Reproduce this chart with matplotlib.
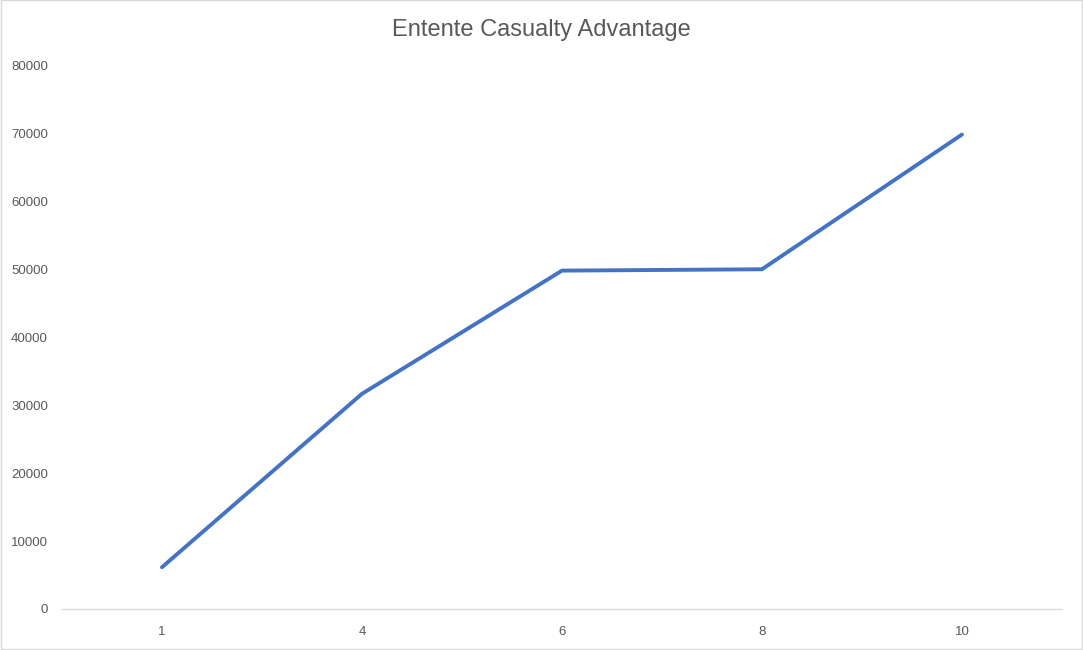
import matplotlib
matplotlib.use("Agg")
import matplotlib.pyplot as plt
from matplotlib.patches import Rectangle

categories = ["1", "4", "6", "8", "10"]
advantage = [6150, 31700, 49850, 50050, 69900]
y_ticks = [0, 10000, 20000, 30000, 40000, 50000, 60000, 70000, 80000]

plt.rcParams["font.family"] = ["Liberation Sans", "DejaVu Sans"]

fig = plt.figure(figsize=(10.83, 6.5), dpi=100)
ax = fig.add_axes([0.0572, 0.0631, 0.9234, 0.8354])

x = list(range(len(categories)))
ax.plot(x, advantage, color="#4472C4", linewidth=2.8, solid_capstyle="round",
        solid_joinstyle="miter")

ax.set_xlim(-0.5, len(categories) - 0.5)
ax.set_ylim(0, 80000)
ax.set_xticks(x)
ax.set_xticklabels(categories)
ax.set_yticks(y_ticks)
ax.set_yticklabels([str(v) for v in y_ticks])

for side in ["top", "right", "left"]:
    ax.spines[side].set_visible(False)
ax.spines["bottom"].set_color("#D9D9D9")
ax.spines["bottom"].set_linewidth(1)
ax.tick_params(axis="both", length=0, labelsize=9.5, colors="#595959")
ax.tick_params(axis="x", pad=12)
ax.tick_params(axis="y", pad=10)

fig.text(0.5, 1 - 30 / 650, "Entente Casualty Advantage", ha="center", va="center",
         fontsize=17, color="#595959")

# light frame round the chart
fig.patches.append(Rectangle((0.0005, 0.0008), 0.999, 0.9985, transform=fig.transFigure,
                             fill=False, edgecolor="#D9D9D9", linewidth=1))

fig.savefig("out.png", dpi=100)
